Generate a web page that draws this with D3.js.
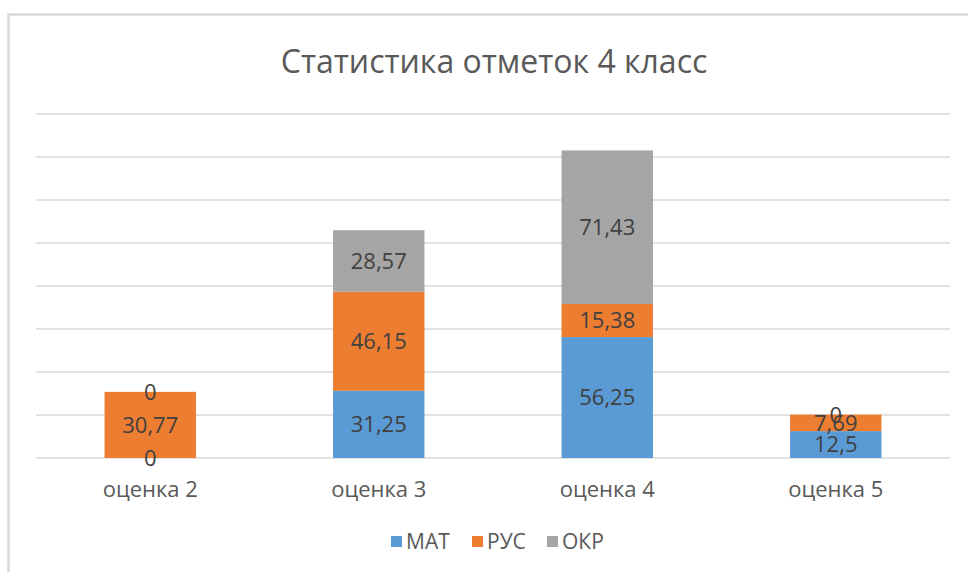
<!DOCTYPE html>
<html>
<head>
<meta charset="utf-8">
<script src="https://cdn.jsdelivr.net/npm/d3@7"></script>
<style>
    body { margin: 0; background: #fff; }
    svg { display: block; font-family: "Open Sans", sans-serif; }
</style>
</head>
<body>
<div id="chart"></div>
<script>
const categories = ["оценка 2", "оценка 3", "оценка 4", "оценка 5"];
const seriesNames = ["МАТ", "РУС", "ОКР"];
const matValues = [0, 31.25, 56.25, 12.5];
const rusValues = [30.77, 46.15, 15.38, 7.69];
const okrValues = [0, 28.57, 71.43, 0];
const colors = ["#5B9BD5", "#ED7D31", "#A5A5A5"];
const title = "Статистика отметок 4 класс";

const width = 968, height = 572;

const svg = d3.select("#chart").append("svg")
    .attr("width", width)
    .attr("height", height);

// chart frame (only top and left edges are inside the picture)
svg.append("rect")
    .attr("x", 8.5).attr("y", 14.5)
    .attr("width", 980).attr("height", 600)
    .attr("fill", "none")
    .attr("stroke", "#d9d9d9")
    .attr("stroke-width", 2.5);

svg.append("text")
    .attr("x", 494).attr("y", 73)
    .attr("text-anchor", "middle")
    .attr("font-size", 32)
    .attr("fill", "#595959")
    .text(title);

const x = d3.scaleBand()
    .domain(categories)
    .range([36, 950])
    .paddingInner(0.6)
    .paddingOuter(0.3);

const y = d3.scaleLinear()
    .domain([0, 160])
    .range([458, 114]);

// gridlines
svg.append("g")
    .selectAll("line")
    .data(y.ticks(8))
    .join("line")
    .attr("x1", 36).attr("x2", 950)
    .attr("y1", d => y(d)).attr("y2", d => y(d))
    .attr("stroke", "#d9d9d9")
    .attr("stroke-width", 1.5);

const table = categories.map((c, i) => ({
    cat: c,
    "МАТ": matValues[i],
    "РУС": rusValues[i],
    "ОКР": okrValues[i]
}));

const stacked = d3.stack().keys(seriesNames)(table);

const layer = svg.append("g")
    .selectAll("g")
    .data(stacked)
    .join("g")
    .attr("fill", (d, i) => colors[i]);

layer.selectAll("rect")
    .data(d => d)
    .join("rect")
    .attr("x", d => x(d.data.cat))
    .attr("width", x.bandwidth())
    .attr("y", d => y(d[1]))
    .attr("height", d => y(d[0]) - y(d[1]));

// data labels, drawn after all bars
const labels = svg.append("g")
    .attr("font-size", 22)
    .attr("fill", "#404040")
    .attr("text-anchor", "middle");

stacked.forEach(s => {
    s.forEach(d => {
        labels.append("text")
            .attr("x", x(d.data.cat) + x.bandwidth() / 2)
            .attr("y", y((d[0] + d[1]) / 2))
            .attr("dy", "0.36em")
            .text(String(d.data[s.key]).replace(".", ","));
    });
});

// category axis labels
svg.append("g")
    .selectAll("text")
    .data(categories)
    .join("text")
    .attr("x", d => x(d) + x.bandwidth() / 2)
    .attr("y", 497)
    .attr("text-anchor", "middle")
    .attr("font-size", 22)
    .attr("fill", "#595959")
    .text(d => d);

// legend
const legendX = [391, 472, 547];
const legend = svg.append("g")
    .selectAll("g")
    .data(seriesNames)
    .join("g")
    .attr("transform", (d, i) => `translate(${legendX[i]},536)`);

legend.append("rect")
    .attr("width", 11).attr("height", 11)
    .attr("fill", (d, i) => colors[i]);

legend.append("text")
    .attr("x", 15).attr("y", 13)
    .attr("font-size", 21)
    .attr("fill", "#595959")
    .text(d => d);
</script>
</body>
</html>
